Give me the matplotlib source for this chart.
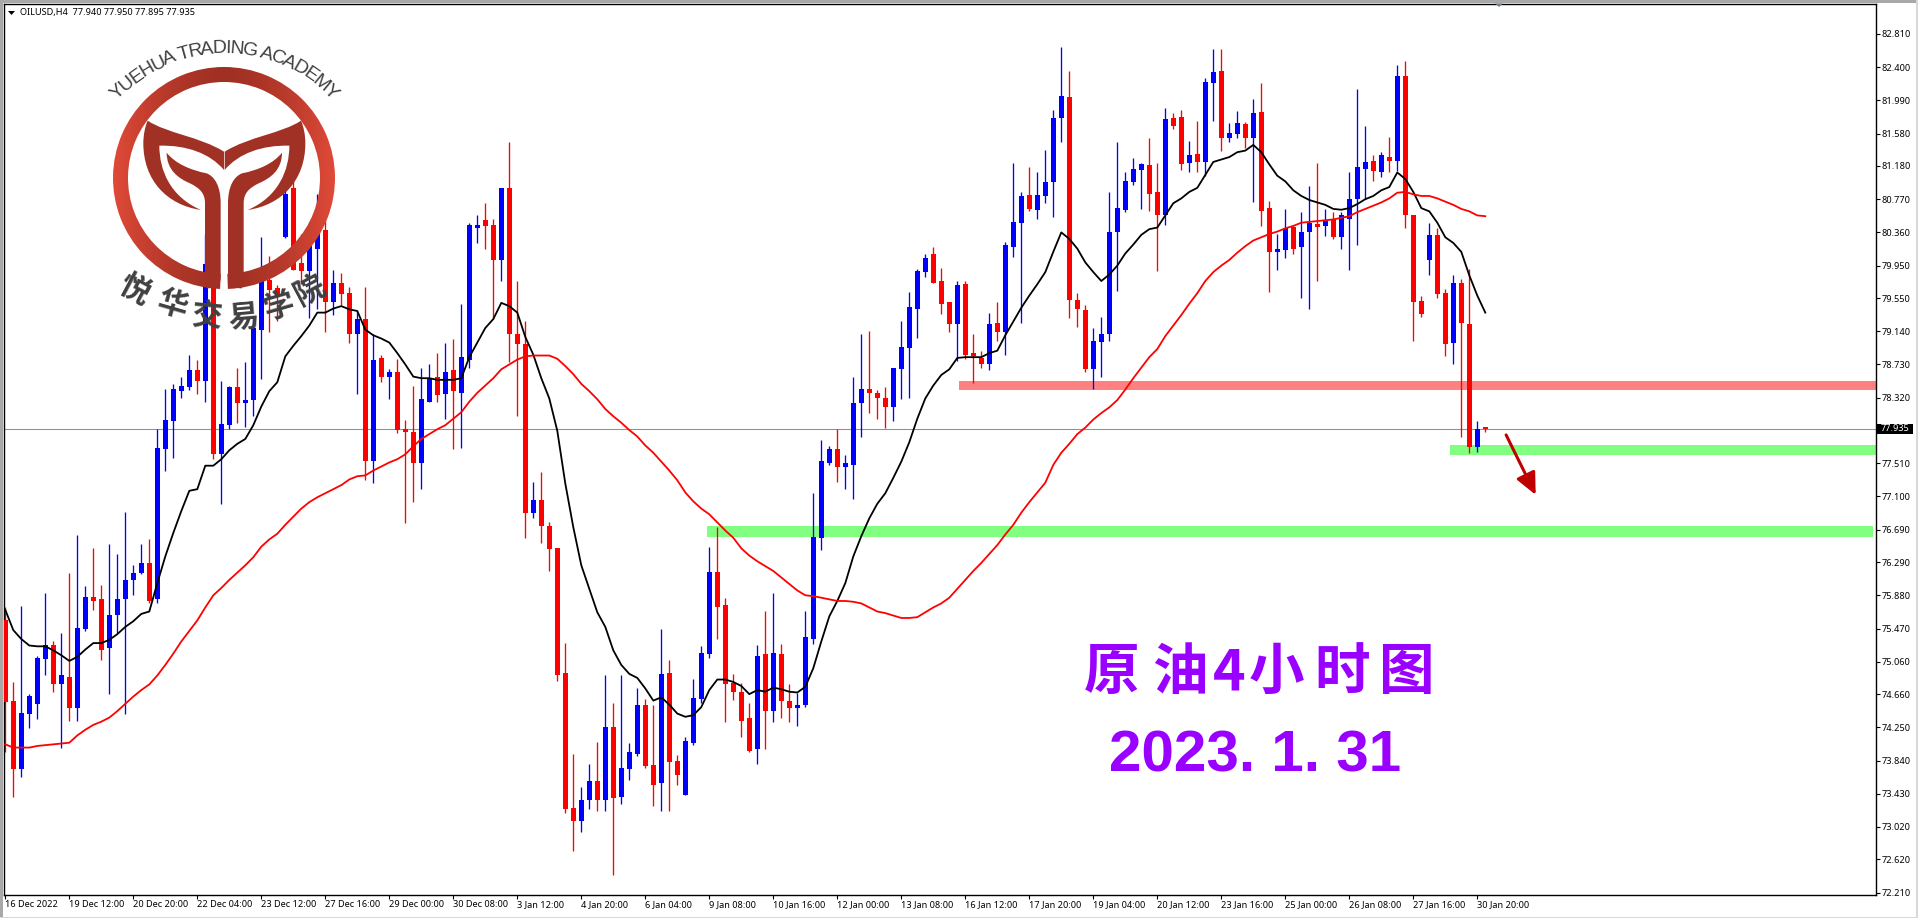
import numpy as np
import matplotlib
matplotlib.use("Agg")
import matplotlib.pyplot as plt
from matplotlib.font_manager import FontProperties
from matplotlib.patches import PathPatch, Polygon, Rectangle, Wedge
from matplotlib.path import Path
from matplotlib.textpath import text_to_path

plt.rcParams['font.family'] = ['Noto Sans', 'Noto Sans CJK SC', 'DejaVu Sans']

# OILUSD H4 candles
opens = [75.58,74.57,73.74,74.42,74.54,75.09,75.27,74.79,74.87,74.49,
         75.46,75.86,75.83,75.23,75.64,75.83,76.07,76.15,76.28,75.83,
         77.69,78.03,78.40,78.45,78.66,78.53,79.97,77.63,77.98,78.45,
         78.25,78.29,79.16,79.77,79.67,80.30,80.91,79.98,79.88,80.16,
         80.39,79.50,79.74,79.61,79.11,79.29,77.54,78.81,78.58,78.64,
         77.93,77.90,77.51,78.27,78.58,78.36,78.66,78.38,78.78,80.41,
         80.51,80.45,80.02,80.91,79.11,78.98,76.90,77.06,76.74,76.46,
         74.92,73.26,73.09,73.35,73.59,73.35,74.26,73.39,73.74,73.92,
         74.53,73.79,73.56,74.92,73.84,73.42,74.06,74.60,75.16,76.17,
         75.76,74.80,74.68,74.36,73.98,75.15,74.45,75.16,74.57,74.49,
         74.52,75.34,76.59,77.51,77.69,77.47,77.49,78.26,78.43,78.38,
         78.32,78.20,78.67,78.93,79.42,79.87,80.09,79.76,79.50,79.23,
         79.72,78.87,78.81,78.73,79.24,79.13,80.18,80.48,80.82,80.64,
         80.81,80.98,81.77,82.03,79.53,79.40,78.67,79.01,79.11,80.36,
         80.64,80.98,81.13,81.19,80.86,80.57,81.77,81.78,81.22,81.33,
         81.23,82.20,82.35,81.52,81.58,81.70,81.52,81.85,80.66,80.12,
         80.14,80.43,80.18,80.36,80.46,80.44,80.52,80.30,80.52,80.77,
         81.14,81.24,81.10,81.29,81.24,82.29,80.57,79.51,80.02,80.33,
         79.61,78.99,79.74,79.23,77.71,77.94]
closes = [74.56,73.74,74.43,74.64,75.10,75.27,74.79,74.89,74.49,75.48,
          75.86,75.81,75.21,75.64,75.83,76.07,76.15,76.28,75.81,77.70,
          78.05,78.43,78.47,78.66,78.53,79.97,77.63,77.99,78.45,78.25,
          78.29,79.18,79.76,79.65,79.56,80.84,79.90,79.88,80.19,80.37,
          79.50,79.74,79.60,79.11,79.29,77.54,78.79,78.57,78.64,77.92,
          77.90,77.51,78.30,78.56,78.35,78.64,78.40,78.82,80.45,80.45,
          80.44,80.02,80.91,79.11,78.98,76.89,77.06,76.73,76.45,74.90,
          73.24,73.09,73.35,73.59,73.35,74.26,73.38,73.75,73.95,74.52,
          73.77,73.54,74.91,73.82,73.66,74.08,74.61,75.17,76.17,75.74,
          74.79,74.68,74.33,73.96,75.13,74.45,75.17,74.57,74.49,74.52,
          75.36,76.60,77.54,77.69,77.47,77.51,78.26,78.43,78.38,78.31,
          78.20,78.68,78.95,79.44,79.88,80.04,79.74,79.48,79.23,79.71,
          78.85,78.84,78.73,79.23,79.13,80.21,80.49,80.81,80.65,80.82,
          80.98,81.77,82.04,79.53,79.41,78.67,79.02,79.11,80.37,80.66,
          80.99,81.14,81.20,80.83,80.57,81.76,81.67,81.20,81.31,81.23,
          82.22,82.34,81.52,81.59,81.71,81.52,81.83,80.63,80.12,80.15,
          80.42,80.16,80.37,80.48,80.43,80.50,80.30,80.57,80.77,81.17,
          81.23,81.12,81.31,81.24,82.29,80.57,79.50,79.35,80.33,79.60,
          78.98,79.74,79.24,77.71,77.93,77.935]
highs = [75.74,74.81,75.75,74.66,75.13,75.91,75.32,75.41,76.15,76.62,
         75.99,76.47,76.01,76.51,76.39,76.91,76.25,76.51,76.57,77.93,
         78.43,78.49,78.58,78.85,78.79,80.34,80.70,78.53,78.47,78.69,
         78.76,79.32,80.30,80.07,79.71,81.06,81.06,80.34,80.48,80.84,
         80.55,79.89,79.86,79.68,79.39,79.69,79.11,78.85,78.67,78.80,
         78.05,78.47,78.69,78.74,78.87,79.00,79.05,79.48,80.47,80.57,
         80.72,80.52,80.91,81.47,79.76,79.27,77.28,77.40,76.79,76.46,
         75.29,73.92,73.51,73.80,74.07,74.90,74.55,74.89,74.06,74.73,
         74.60,74.52,75.46,75.08,73.91,74.13,74.85,75.25,76.48,76.72,
         75.85,74.91,74.80,74.55,75.27,75.69,75.91,75.28,74.79,74.67,
         75.68,77.14,77.80,77.72,77.93,77.61,78.57,79.11,79.14,78.41,
         78.45,78.69,79.27,79.63,79.91,80.09,80.18,79.92,79.50,79.76,
         79.76,79.11,78.90,79.37,79.50,80.24,81.22,80.86,81.17,81.10,
         81.38,81.87,82.65,82.35,79.61,79.47,79.18,79.32,80.86,81.47,
         81.10,81.28,81.22,81.52,81.22,81.90,81.84,81.87,81.49,81.74,
         82.27,82.62,82.62,81.71,81.86,81.72,82.01,82.20,80.75,80.34,
         80.65,80.44,80.61,80.93,81.22,80.65,80.61,80.61,81.10,82.13,
         81.67,81.31,81.35,81.54,82.43,82.48,80.57,79.58,80.47,80.42,
         79.66,79.83,79.78,79.91,78.03,77.95]
lows = [73.95,73.39,73.64,74.24,74.35,74.89,74.68,74.00,74.33,74.33,
        75.44,75.70,75.08,74.66,75.42,74.42,75.88,76.14,75.79,75.78,
        77.42,77.57,78.31,78.41,78.36,78.27,77.56,77.01,77.93,78.01,
        77.96,78.09,78.55,79.13,79.27,80.29,79.90,79.72,79.30,79.42,
        79.13,79.34,79.46,79.00,78.36,77.30,77.27,78.51,78.30,77.88,
        76.77,77.03,77.19,78.27,78.27,78.06,77.68,77.70,78.69,80.23,
        80.15,79.29,79.76,78.76,78.09,76.59,76.83,76.53,76.18,74.82,
        73.19,72.72,72.96,73.24,73.22,73.22,72.43,73.30,73.60,73.90,
        73.75,73.28,73.22,73.22,73.54,73.42,74.03,74.55,75.11,75.34,
        74.31,74.59,74.13,73.94,73.80,73.98,74.32,74.36,74.32,74.27,
        74.50,75.28,76.44,77.49,77.28,77.19,77.07,77.84,78.13,78.06,
        77.94,78.03,78.30,78.31,79.06,79.81,79.74,79.35,79.13,78.77,
        78.80,78.50,78.68,78.66,79.02,78.85,80.06,79.24,80.63,80.53,
        80.72,80.55,81.48,79.30,79.19,78.64,78.43,78.57,79.02,79.64,
        80.61,80.94,80.65,80.63,79.88,80.45,81.64,81.13,81.10,81.10,
        81.06,81.73,81.36,81.47,81.52,81.40,80.73,80.44,79.63,79.89,
        80.05,80.09,79.55,79.41,79.76,80.31,80.28,80.16,79.89,80.21,
        80.77,81.00,81.04,81.10,81.12,80.42,79.02,79.31,79.83,79.55,
        78.83,78.73,77.83,77.64,77.65,77.895]

# moving averages, one reading per candle
ma_fast = [75.70,75.45,75.34,75.26,75.25,75.25,75.20,75.14,75.07,75.12,
           75.21,75.29,75.29,75.33,75.40,75.49,75.56,75.65,75.68,76.03,
           76.36,76.65,76.92,77.17,77.19,77.48,77.48,77.56,77.67,77.75,
           77.81,77.98,78.21,78.40,78.51,78.83,78.96,79.08,79.21,79.37,
           79.37,79.42,79.45,79.41,79.39,79.16,79.09,79.05,79.00,78.87,
           78.73,78.58,78.56,78.56,78.54,78.54,78.54,78.56,78.82,79.00,
           79.18,79.29,79.49,79.45,79.37,79.07,78.85,78.56,78.31,77.91,
           77.26,76.72,76.25,75.96,75.67,75.49,75.20,75.02,74.91,74.86,
           74.73,74.58,74.62,74.53,74.42,74.38,74.40,74.50,74.71,74.84,
           74.84,74.81,74.76,74.66,74.71,74.69,74.74,74.72,74.69,74.68,
           74.75,74.98,75.31,75.62,75.81,76.03,76.36,76.61,76.83,77.01,
           77.14,77.33,77.53,77.77,78.06,78.31,78.47,78.60,78.67,78.81,
           78.82,78.82,78.82,78.87,78.90,79.09,79.26,79.43,79.58,79.72,
           79.87,80.12,80.36,80.28,80.16,79.99,79.87,79.76,79.84,79.95,
           80.10,80.21,80.33,80.40,80.42,80.57,80.72,80.78,80.86,80.91,
           81.07,81.23,81.26,81.29,81.35,81.37,81.44,81.35,81.20,81.06,
           80.99,80.88,80.81,80.76,80.73,80.70,80.65,80.64,80.66,80.71,
           80.77,80.81,80.88,80.92,81.10,81.02,80.86,80.66,80.62,80.48,
           80.30,80.23,80.12,79.83,79.58,79.37]
ma_slow = [74.04,74.00,74.00,74.00,74.02,74.03,74.04,74.05,74.06,74.15,
           74.22,74.28,74.32,74.37,74.45,74.54,74.63,74.71,74.78,74.89,
           75.02,75.16,75.31,75.44,75.57,75.73,75.88,75.97,76.07,76.16,
           76.25,76.35,76.48,76.57,76.64,76.75,76.85,76.95,77.03,77.09,
           77.14,77.19,77.24,77.31,77.35,77.36,77.42,77.47,77.52,77.56,
           77.62,77.72,77.81,77.87,77.93,77.98,78.06,78.14,78.27,78.38,
           78.47,78.56,78.67,78.73,78.79,78.83,78.84,78.84,78.84,78.80,
           78.71,78.61,78.49,78.40,78.30,78.18,78.09,78.01,77.92,77.84,
           77.73,77.64,77.53,77.42,77.30,77.15,77.04,76.95,76.88,76.78,
           76.68,76.59,76.46,76.37,76.30,76.24,76.18,76.10,76.02,75.94,
           75.88,75.87,75.85,75.83,75.81,75.81,75.80,75.78,75.73,75.68,
           75.66,75.63,75.60,75.60,75.61,75.67,75.73,75.78,75.85,75.96,
           76.07,76.18,76.28,76.39,76.50,76.63,76.75,76.90,77.03,77.15,
           77.27,77.49,77.64,77.75,77.87,77.95,78.05,78.13,78.20,78.29,
           78.42,78.56,78.69,78.82,78.92,79.08,79.21,79.34,79.48,79.61,
           79.76,79.87,79.95,80.02,80.11,80.19,80.26,80.30,80.34,80.37,
           80.41,80.44,80.48,80.49,80.50,80.51,80.52,80.54,80.56,80.61,
           80.65,80.69,80.73,80.78,80.85,80.86,80.83,80.81,80.81,80.78,
           80.74,80.70,80.65,80.62,80.57,80.56]

price_ticks = [82.81,82.40,81.99,81.58,81.18,80.77,80.36,79.95,79.55,79.14,78.73,78.32,
               77.51,77.10,76.69,76.29,75.88,75.47,75.06,74.66,74.25,73.84,73.43,73.02,72.62,72.21]
time_labels = ["16 Dec 2022","19 Dec 12:00","20 Dec 20:00","22 Dec 04:00","23 Dec 12:00","27 Dec 16:00",
               "29 Dec 00:00","30 Dec 08:00","3 Jan 12:00","4 Jan 20:00","6 Jan 04:00","9 Jan 08:00",
               "10 Jan 16:00","12 Jan 00:00","13 Jan 08:00","16 Jan 12:00","17 Jan 20:00","19 Jan 04:00",
               "20 Jan 12:00","23 Jan 16:00","25 Jan 00:00","26 Jan 08:00","27 Jan 16:00","30 Jan 20:00"]
last_price = 77.935

W, H = 1918, 918
BLUE, RED = '#0000ff', '#ff0000'

fig = plt.figure(figsize=(W / 100, H / 100), dpi=100, facecolor='white')
ax = fig.add_axes([3.5 / W, 1 - 895 / H, (1875.5 - 3.5) / W, (895 - 3.5) / H])
ax.set_xlim(-0.225, 233.775)
ax.set_ylim(72.18, 83.186)

# support / resistance bands
ax.add_patch(Rectangle((119.2, 78.41), 114.6, 0.11, fc='#ff8080', ec='none', zorder=1))
ax.add_patch(Rectangle((180.6, 77.61), 53.2, 0.12, fc='#80ff80', ec='none', zorder=1))
ax.add_patch(Rectangle((87.7, 76.60), 145.7, 0.14, fc='#80ff80', ec='none', zorder=1))
ax.axhline(last_price, color='#909090', lw=0.75, zorder=1.5)

# candles
x = np.arange(len(opens))
o, c = np.array(opens), np.array(closes)
cols = [RED if cc < oo else BLUE for oo, cc in zip(o, c)]
ax.vlines(x, lows, highs, colors=cols, lw=0.95, zorder=2)
ax.bar(x, np.maximum(np.abs(c - o), 0.02), bottom=np.minimum(o, c), width=0.62, color=cols, linewidth=0, zorder=3)

ax.plot(np.arange(len(ma_fast)), ma_fast, color='black', lw=1.3, zorder=4)
ax.plot(np.arange(len(ma_slow)), ma_slow, color=RED, lw=1.3, zorder=4)

ax.annotate('', xy=(191.3, 77.12), xytext=(187.6, 77.86),
            arrowprops=dict(arrowstyle='-|>,head_length=0.6,head_width=0.28', color='#c00000', lw=2.2,
                            mutation_scale=22, shrinkA=0, shrinkB=0), zorder=5)

# axes, MT4 style
ax.yaxis.tick_right()
ax.set_yticks(price_ticks)
ax.set_yticklabels(['%.3f' % p for p in price_ticks], fontsize=6.6, color='black')
ax.set_xticks(np.arange(len(time_labels)) * 8)
ax.set_xticklabels(time_labels, fontsize=6.6, ha='left', color='black')
ax.tick_params(axis='both', length=3, width=0.8, pad=1.5)
ax.tick_params(axis='x', pad=0.8)
for s in ax.spines.values():
    s.set_linewidth(1.0)

# current price box on the axis
ax.add_patch(Rectangle((1.0008, last_price - 0.065), 0.0192, 0.13, transform=ax.get_yaxis_transform(),
                       fc='black', ec='none', clip_on=False, zorder=6))
ax.text(1.003, last_price, '%.3f' % last_price, transform=ax.get_yaxis_transform(), color='white',
        fontsize=6.6, va='center', ha='left', zorder=7)

# everything below is placed in screen pixels
ov = fig.add_axes([0, 0, 1, 1], zorder=5)
ov.set_xlim(0, W)
ov.set_ylim(H, 0)
ov.axis('off')
ov.patch.set_alpha(0)

# window frame
ov.add_patch(Rectangle((0, 0), W, 2.5, fc='#a8a8a8', ec='none'))
ov.add_patch(Rectangle((0, 0), 2.5, H, fc='#a8a8a8', ec='none'))
ov.add_patch(Rectangle((W - 2, 0), 2, H, fc='#d8d8d8', ec='none'))
ov.add_patch(Rectangle((0, H - 1.5), W, 1.5, fc='#d8d8d8', ec='none'))
ov.add_patch(Polygon([(1495, 3.5), (1503, 3.5), (1499, 7)], fc='#708090', ec='none'))

ov.add_patch(Polygon([(8, 11), (15, 11), (11.5, 15)], fc='black', ec='none'))
ov.text(20, 12.5, 'OILUSD,H4  77.940 77.950 77.895 77.935', fontsize=6.6, va='center', ha='left', color='black')

# title, each glyph spaced out a little like the original
title_chars = ['原', '油', '4', '小', '时', '图']
title_x = [1112, 1180, 1229, 1277, 1342, 1407]
for ch, tx in zip(title_chars, title_x):
    ov.text(tx, 673, ch, fontsize=40, fontweight='bold', color='#9900ff', ha='center', va='center',
            family=['Noto Sans CJK SC', 'DejaVu Sans'])
ov.text(1255, 757, '2023. 1. 31', fontsize=42, fontweight='bold', color='#9900ff', ha='center', va='center',
        family=['Liberation Sans', 'DejaVu Sans'])


def z(px, py):
    return 100 + px / 3, 30 + py / 3


MOVE, LINE, C4, CLOSE = Path.MOVETO, Path.LINETO, Path.CURVE4, Path.CLOSEPOLY
petal = [(MOVE, 143, 272), (C4, 200, 310), (C4, 300, 320), (C4, 372, 365), (LINE, 372, 420),
         (C4, 330, 370), (C4, 260, 345), (C4, 178, 347), (C4, 178, 420), (C4, 210, 500), (C4, 303, 540),
         (C4, 200, 525), (C4, 130, 450), (C4, 130, 340), (C4, 130, 315), (C4, 135, 290), (C4, 143, 272)]
stem = [(MOVE, 200, 368), (C4, 225, 400), (C4, 270, 420), (C4, 320, 430), (C4, 345, 440), (C4, 362, 470),
        (C4, 362, 520), (LINE, 362, 745), (C4, 362, 765), (C4, 345, 775), (C4, 320, 775), (LINE, 315, 725),
        (LINE, 315, 520), (C4, 315, 490), (C4, 300, 475), (C4, 270, 460), (C4, 235, 445), (C4, 200, 420),
        (C4, 200, 368)]


def logo_path(parts, mirror=False):
    verts = [z(746 - a if mirror else a, b) for _, a, b in parts] + [(0, 0)]
    codes = [k for k, _, _ in parts] + [CLOSE]
    return Path(verts, codes)


for parts in (petal, stem):
    for m in (False, True):
        ov.add_patch(PathPatch(logo_path(parts, m), fc='#a03124', ec='none', zorder=3))

ring = Wedge((224, 178), 111, 92, 88 + 360, width=15, fc='none', ec='none')
ov.add_patch(ring)
side_c, mid_c = np.array([0.88, 0.29, 0.22]), np.array([0.63, 0.19, 0.14])
t = np.abs(np.linspace(-1, 1, 256))[None, :, None] ** 1.6
grad = mid_c[None, None, :] * (1 - t) + side_c[None, None, :] * t
im = ov.imshow(grad, extent=(113, 335, 289, 67), aspect='auto', zorder=2)
im.set_clip_path(ring)
ov.set_xlim(0, W)
ov.set_ylim(H, 0)

# arc lettering over the ring
arc_text = 'YUEHUA TRADING ACADEMY'
prop = FontProperties(family='Liberation Sans', size=14)
adv = [text_to_path.get_text_width_height_descent(arc_text[:i], prop, False)[0] for i in range(len(arc_text) + 1)]
cx, cy, rad = 224.3, 199, 146
for i, ch in enumerate(arc_text):
    if ch == ' ':
        continue
    ang = ((adv[i] + adv[i + 1]) / 2 / adv[-1] - 0.5) * 94
    a = np.radians(ang)
    ov.text(cx + rad * np.sin(a), cy - rad * np.cos(a), ch, fontproperties=prop, rotation=-ang,
            rotation_mode='anchor', ha='center', va='baseline', color='#404040', zorder=4)

cn_chars = ['悦', '华', '交', '易', '学', '院']
cn_pos = [(105, 780), (215, 825), (320, 860), (430, 865), (535, 830), (630, 780)]
cn_rot = [-28, -16, -5, 5, 16, 28]
for ch, (a, b), r in zip(cn_chars, cn_pos, cn_rot):
    px, py = z(a, b)
    ov.text(px, py, ch, fontsize=22, fontweight='heavy', rotation=r, rotation_mode='anchor', ha='center',
            va='center', color='#404040', zorder=4, family=['Noto Sans CJK SC', 'DejaVu Sans'])

fig.savefig('out.png', dpi=100)
